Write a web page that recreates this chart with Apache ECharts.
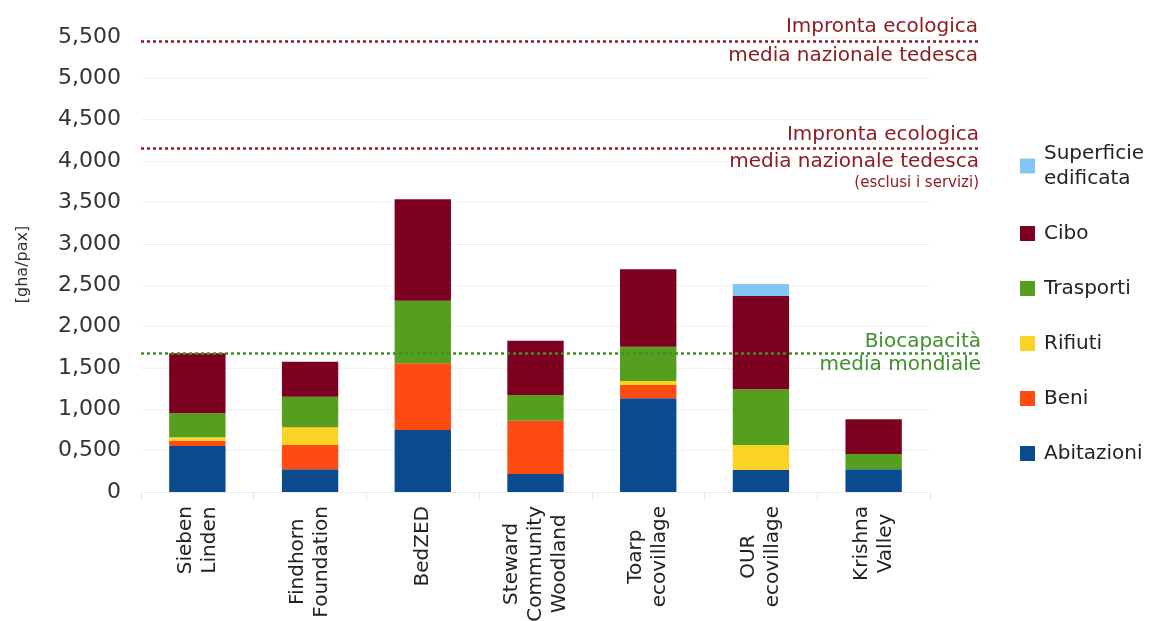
<!DOCTYPE html>
<html>
<head>
<meta charset="utf-8">
<script src="https://cdn.jsdelivr.net/npm/echarts@6/dist/echarts.min.js"></script>
<style>html,body{margin:0;padding:0;background:#fff}#c{width:1159px;height:621px}</style>
</head>
<body>
<div id="c"></div>
<script>
const categories = ['Sieben\nLinden', 'Findhorn\nFoundation', 'BedZED', 'Steward\nCommunity\nWoodland', 'Toarp\necovillage', 'OUR\necovillage', 'Krishna\nValley'];
const abitazioni = [0.556, 0.274, 0.750, 0.218, 1.133, 0.266, 0.274];
const beni       = [0.064, 0.294, 0.806, 0.644, 0.161, 0, 0];
const rifiuti    = [0.041, 0.214, 0, 0, 0.048, 0.302, 0];
const trasporti  = [0.290, 0.370, 0.757, 0.311, 0.415, 0.674, 0.185];
const cibo       = [0.726, 0.423, 1.226, 0.656, 0.935, 1.128, 0.420];
const superficie = [0, 0, 0, 0, 0, 0.145, 0];
const refGermany = 5.45;
const refGermanyNoServices = 4.16;
const refBiocapacity = 1.68;
const yTicks = { min: 0, max: 5.5, interval: 0.5 };

const FONT = 'DejaVu Sans';
const RED = '#8e1c22';
const GREEN = '#3f8f28';

function fmt(v) { return v === 0 ? '0' : v.toFixed(3).replace('.', ','); }

function mkSeries(name, data, color) {
  return { name: name, type: 'bar', stack: 'tot', data: data, barWidth: '50%',
    itemStyle: { color: color }, emphasis: { disabled: true } };
}

function refLine(val, color, topText, bottomText, dist) {
  const lbl = { show: true, color: color, fontFamily: FONT, fontSize: 20, lineHeight: 23, distance: dist,
    rich: { s: { fontSize: 15, color: color, fontFamily: FONT, lineHeight: 20 } } };
  return [
    [{ coord: [0, val], x: 141, lineStyle: { color: color, type: [3, 3], width: 2.5 },
       label: Object.assign({}, lbl, { position: 'insideEndTop', formatter: topText }) },
     { coord: [0, val], x: 981 }],
    [{ coord: [0, val], x: 141, lineStyle: { color: 'rgba(0,0,0,0)', width: 0.1 },
       label: Object.assign({}, lbl, { position: 'insideEndBottom', formatter: bottomText }) },
     { coord: [0, val], x: 981 }]
  ];
}

const abSeries = mkSeries('Abitazioni', abitazioni, '#0b4a8c');
abSeries.markLine = {
  silent: true, symbol: 'none', animation: false,
  data: [].concat(
    refLine(refGermany, RED, 'Impronta ecologica', 'media nazionale tedesca', 3),
    refLine(refGermanyNoServices, RED, 'Impronta ecologica', 'media nazionale tedesca\n{s|(esclusi i servizi)}', 2),
    refLine(refBiocapacity, GREEN, 'Biocapacità', 'media mondiale', 0)
  )
};

const chart = echarts.init(document.getElementById('c'), null, { renderer: 'canvas' });
chart.setOption({
  animation: false,
  textStyle: { fontFamily: FONT },
  grid: { left: 141, right: 229, top: 37, bottom: 129, containLabel: false, outerBoundsMode: 'none' },
  legend: {
    orient: 'vertical', left: 1015, top: 136, itemWidth: 15, itemHeight: 15, itemGap: 30,
    icon: 'rect', selectedMode: false,
    textStyle: { fontFamily: FONT, fontSize: 20, color: '#222', lineHeight: 25, padding: [0, 0, 0, 4] },
    data: ['Superficie\nedificata', 'Cibo', 'Trasporti', 'Rifiuti', 'Beni', 'Abitazioni']
  },
  xAxis: {
    type: 'category', data: categories,
    axisLine: { show: true, lineStyle: { color: '#eeeeee' } },
    axisTick: { show: true, length: 8, lineStyle: { color: '#e8e8e8' } },
    splitLine: { show: false },
    axisLabel: {
      rotate: 90, margin: 14, color: '#222', fontFamily: FONT, fontSize: 20, interval: 0,
      hideOverlap: false,
      formatter: function (v) { return v.split('\n').map(function (l) { return '{c|' + l + '}'; }).join('\n'); },
      rich: { c: { align: 'center', fontSize: 20, lineHeight: 24, color: '#222', fontFamily: FONT } }
    }
  },
  yAxis: {
    type: 'value', min: yTicks.min, max: yTicks.max, interval: yTicks.interval,
    name: '[gha/pax]', nameLocation: 'middle', nameGap: 110, nameRotate: 90,
    nameTextStyle: { fontFamily: FONT, fontSize: 16, color: '#333' },
    axisLine: { show: false }, axisTick: { show: false },
    splitLine: { show: true, lineStyle: { color: '#f1f1f1' } },
    axisLabel: { formatter: fmt, color: '#333', fontFamily: FONT, fontSize: 22, margin: 20 }
  },
  series: [
    abSeries,
    mkSeries('Beni', beni, '#ff4a12'),
    mkSeries('Rifiuti', rifiuti, '#fbd324'),
    mkSeries('Trasporti', trasporti, '#559e1e'),
    mkSeries('Cibo', cibo, '#7d0020'),
    mkSeries('Superficie\nedificata', superficie, '#82c6f4')
  ]
});
</script>
</body>
</html>
